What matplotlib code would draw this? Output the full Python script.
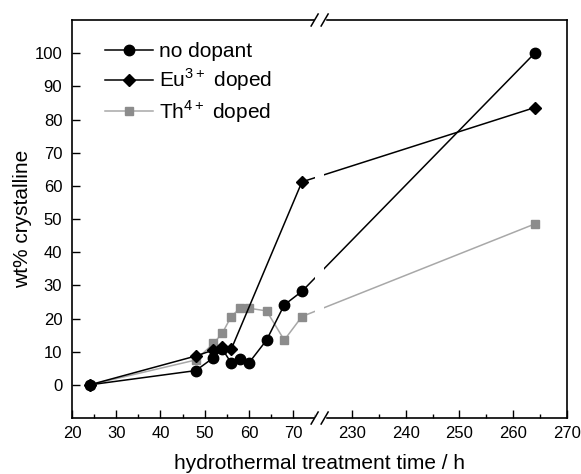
import numpy as np
import matplotlib
matplotlib.use("Agg")
from matplotlib import pyplot as plt

plt.rcParams['font.family'] = ['Liberation Sans', 'DejaVu Sans']

# data
time_none = [24, 48, 52, 54, 56, 58, 60, 64, 68, 72, 264]
wt_none = [0, 4.3, 8.2, 10.8, 6.6, 7.9, 6.6, 13.5, 24.1, 28.2, 100]

time_eu = [24, 48, 52, 54, 56, 72, 264]
wt_eu = [0, 8.7, 10.5, 11.5, 10.7, 61.2, 83.6]

time_th = [24, 48, 52, 54, 56, 58, 60, 64, 68, 72, 264]
wt_th = [0, 7.5, 12.5, 15.6, 20.6, 23.1, 23.1, 22.3, 13.5, 20.6, 48.5]

left_ticks = [20, 30, 40, 50, 60, 70]
left_minor = [25, 35, 45, 55, 65, 75]
right_ticks = [230, 240, 250, 260, 270]
right_minor = [235, 245, 255, 265]
y_ticks = list(range(0, 101, 10))

# broken x axis: 20-76 and 224-270, right part slightly stretched
BRK_LO, BRK_HI, STRETCH = 76, 224, 1.216


def fwd(x):
    x = np.asarray(x, dtype=float)
    return np.where(x <= BRK_LO, x - 20,
                    (BRK_LO - 20) + (np.maximum(x, BRK_HI) - BRK_HI) * STRETCH)


def inv(u):
    u = np.asarray(u, dtype=float)
    return np.where(u <= BRK_LO - 20, u + 20,
                    BRK_HI + (u - (BRK_LO - 20)) / STRETCH)


fig = plt.figure(figsize=(5.81, 4.74), dpi=100)
ax = fig.add_axes([0.1239, 0.1181, 0.852, 0.8397])
ax.set_xscale('function', functions=(fwd, inv))

ax.plot(time_none, wt_none, color='black', lw=1.1, marker='o', ms=7.5,
        label='no dopant', zorder=2.1)
ax.plot(time_eu, wt_eu, color='black', lw=1.1, marker='D', ms=6.5,
        label='Eu$^{\\mathregular{3+}}$ doped', zorder=2.0)
ax.plot(time_th, wt_th, color='#a8a8a8', lw=1.1, marker='s', ms=6,
        mfc='#8c8c8c', mec='#8c8c8c', label='Th$^{\\mathregular{4+}}$ doped', zorder=1.9)

ax.set_xlim(20, 270)
ax.set_ylim(-10, 110)

ax.set_xticks(left_ticks + right_ticks)
ax.set_xticklabels([str(t) for t in left_ticks + right_ticks])
ax.set_xticks(left_minor + right_minor, minor=True)
ax.set_yticks(y_ticks)

ax.tick_params(axis='both', which='major', direction='in', length=6, width=1,
               labelsize=12, top=False, right=False)
ax.tick_params(axis='x', which='major', pad=6)
ax.tick_params(axis='y', which='major', pad=7)
ax.tick_params(axis='x', which='minor', direction='in', length=3, width=1)
for sp in ax.spines.values():
    sp.set_linewidth(1.2)

# break: white gap through the lines plus // marks on top and bottom spines
w_ax = 495.0
h_ax = 398.0
xb = float(fwd(BRK_LO)) / float(fwd(270))
ax.axvspan(inv(fwd(BRK_LO) - 1.1), inv(fwd(BRK_LO) + 1.1), ymin=0.004, ymax=0.996,
           color='white', zorder=2.3, lw=0)
for yb in (0.0, 1.0):
    ax.plot([xb - 4 / w_ax, xb + 4 / w_ax], [yb, yb], color='white', lw=2.5,
            transform=ax.transAxes, clip_on=False, zorder=5)
    for dx in (-5, 5):
        ax.plot([xb + (dx - 3.5) / w_ax, xb + (dx + 3.5) / w_ax],
                [yb - 6 / h_ax, yb + 6 / h_ax], color='black', lw=1.1,
                transform=ax.transAxes, clip_on=False, zorder=6)

ax.set_xlabel('hydrothermal treatment time / h', fontsize=15, labelpad=9)
ax.set_ylabel('wt% crystalline', fontsize=15, labelpad=2)

leg = ax.legend(loc='upper left', bbox_to_anchor=(0.05, 0.965), frameon=False,
                fontsize=15, handlelength=2.3, handletextpad=0.3,
                labelspacing=0.25, borderaxespad=0)

fig.savefig('out.png', dpi=100)
